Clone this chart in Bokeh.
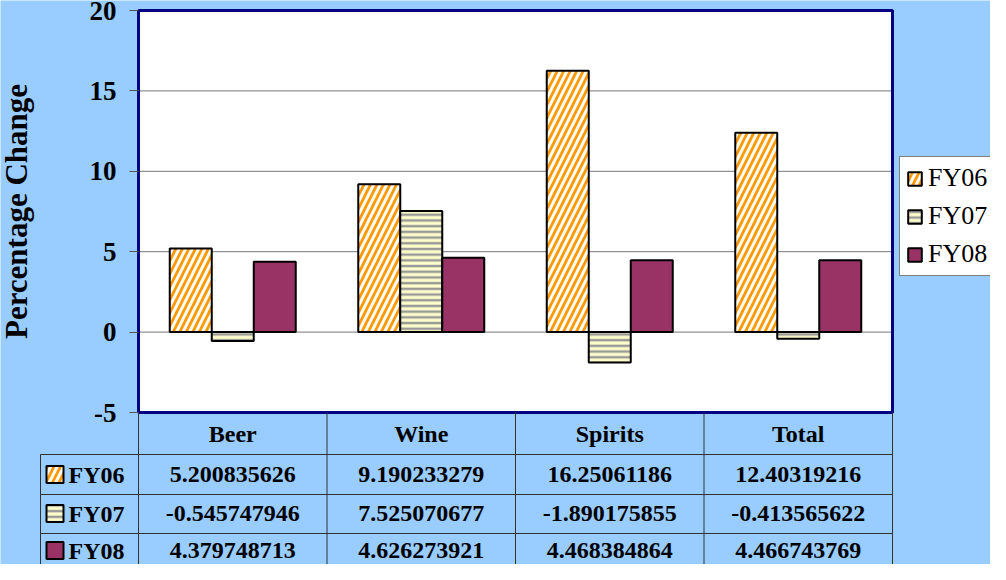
from bokeh.plotting import figure
from bokeh.models import ColumnDataSource, Range1d, FixedTicker, Legend, LegendItem, LinearAxis
from bokeh.embed import file_html
from bokeh.resources import INLINE
from bokeh.core.properties import value

# ---------------- data ----------------
categories = ["Beer", "Wine", "Spirits", "Total"]
series = ["FY06", "FY07", "FY08"]
fy06 = [5.200835626, 9.190233279, 16.25061186, 12.40319216]
fy07 = [-0.545747946, 7.525070677, -1.890175855, -0.413565622]
fy08 = [4.379748713, 4.626273921, 4.468384864, 4.466743769]
y_ticks = [-5, 0, 5, 10, 15, 20]
y_label = "Percentage Change"

# ---------------- styles ----------------
BG = "#99CCFF"
FONT = "Liberation Serif"
styles = {
    "FY06": dict(fill_color="#FF9900", hatch_pattern="right_diagonal_line",
                 hatch_color="white", hatch_scale=13, hatch_weight=3),
    "FY07": dict(fill_color="#FFFFCC", hatch_pattern="horizontal_line",
                 hatch_color="#999999", hatch_scale=5.7, hatch_weight=2.5),
    "FY08": dict(fill_color="#993366"),
}

W, H = 990, 564
PX_X = 188.5            # pixels per category column
PX_Y = 402 / 25.0       # pixels per value unit


def ux(sx):
    """page pixel x -> category units"""
    return (sx - 146) / PX_X


def vy(sy):
    """page pixel y -> value units"""
    return 20 - (sy - 18) / PX_Y


y_lo, y_hi = y_ticks[0], y_ticks[-1]
n = len(categories)

p = figure(width=W, height=H,
           x_range=Range1d(ux(8), ux(998)), y_range=Range1d(vy(572), vy(8)),
           output_backend="svg", toolbar_location=None,
           x_axis_location=None, y_axis_location=None, min_border=0)
p.background_fill_color = BG
p.border_fill_color = BG
p.outline_line_color = None
p.grid.visible = False

# plot area
p.quad(left=[0], right=[n], bottom=[y_lo], top=[y_hi], fill_color="white", line_color=None)
grid_vals = y_ticks[1:-1]
p.segment(x0=[0] * len(grid_vals), y0=grid_vals, x1=[n] * len(grid_vals), y1=grid_vals,
          line_color="#777777", line_width=1)

# bars
xs = [i + 0.5 for i in range(n)]
bw = 42 / PX_X
offsets = [-bw, 0, bw]
src = ColumnDataSource(dict(cat=categories, FY06=fy06, FY07=fy07, FY08=fy08,
                            x06=[x + offsets[0] for x in xs],
                            x07=[x + offsets[1] for x in xs],
                            x08=[x + offsets[2] for x in xs]))
renderers = []
for s, xc in zip(series, ["x06", "x07", "x08"]):
    r = p.vbar(x=xc, top=s, bottom=0, width=bw, source=src,
               line_color="black", line_width=2, **styles[s])
    renderers.append(r)

# plot area border
p.quad(left=[0], right=[n], bottom=[y_lo], top=[y_hi], fill_color=None,
       line_color="#000080", line_width=3)

# y axis
yax = LinearAxis(fixed_location=0, ticker=FixedTicker(ticks=y_ticks), bounds=(y_lo, y_hi))
yax.major_label_overrides = {t: str(t) for t in y_ticks}
yax.minor_tick_line_color = None
yax.axis_line_color = None
yax.major_tick_in = 0
yax.major_tick_out = 9
yax.major_tick_line_color = "#555555"
yax.major_label_text_font = FONT
yax.major_label_text_font_style = "bold"
yax.major_label_text_font_size = "27px"
yax.major_label_text_color = "black"
yax.major_label_standoff = 13
yax.axis_label = y_label
yax.axis_label_text_font = FONT
yax.axis_label_text_font_style = "bold"
yax.axis_label_text_font_size = "31px"
yax.axis_label_text_color = "black"
yax.axis_label_standoff = 53
p.add_layout(yax, "left")

# legend (inside the canvas, right of the plot area)
legend = Legend(items=[LegendItem(label=s, renderers=[r]) for s, r in zip(series, renderers)],
                location=(907 - 8, 572 - 284), margin=0, padding=6, spacing=8,
                glyph_width=17, glyph_height=17, label_height=30, label_standoff=5,
                label_text_font=FONT, label_text_font_size="26px", label_text_color="black",
                border_line_color="black", border_line_width=1,
                background_fill_color="white", background_fill_alpha=1)
p.add_layout(legend)

# ---------------- data table ----------------
LINE = "#333333"
table_top = vy(420)
table_bottom = vy(580)
row_lines = [vy(462), vy(502), vy(541)]
row_centers = [vy(482), vy(521), vy(558)]
header_center = vy(441)
left_edge = ux(48)

vx = list(range(n + 1))
p.segment(x0=vx, y0=[table_top] * len(vx), x1=vx, y1=[table_bottom] * len(vx),
          line_color=LINE, line_width=1)
p.segment(x0=[left_edge], y0=[row_lines[0]], x1=[left_edge], y1=[table_bottom],
          line_color=LINE, line_width=1)
p.segment(x0=[left_edge] * 3, y0=row_lines, x1=[n] * 3, y1=row_lines,
          line_color=LINE, line_width=1)

p.text(x=xs, y=[header_center] * n, text=categories, text_font=value(FONT),
       text_font_style="bold", text_font_size="24px", text_align="center",
       text_baseline="middle", text_color="black")

for s, vals, yc in zip(series, [fy06, fy07, fy08], row_centers):
    p.text(x=xs, y=[yc] * n, text=[str(v) for v in vals], text_font=value(FONT),
           text_font_style="bold", text_font_size="24px", text_align="center",
           text_baseline="middle", text_color="black")
    p.rect(x=[ux(62.5)], y=[yc], width=17 / PX_X, height=17 / PX_Y,
           line_color="black", line_width=2, **styles[s])
    p.text(x=[ux(76)], y=[yc], text=[s], text_font=value(FONT), text_font_style="bold",
           text_font_size="24px", text_align="left", text_baseline="middle",
           text_color="black")

open("out.html", "w").write(file_html(p, INLINE))
